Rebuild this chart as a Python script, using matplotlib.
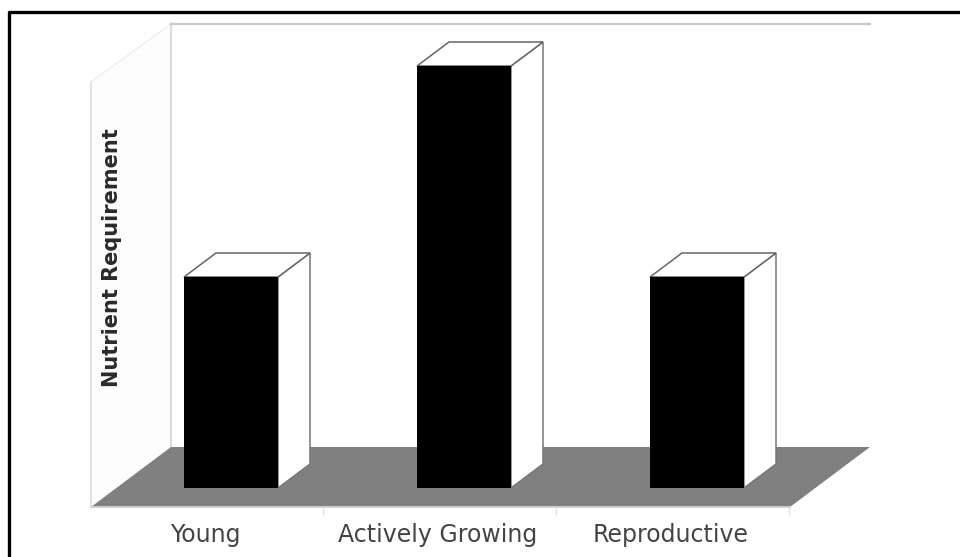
import matplotlib
matplotlib.use("Agg")
import matplotlib.pyplot as plt
from matplotlib.patches import Polygon
from matplotlib.lines import Line2D

categories = ["Young", "Actively Growing", "Reproductive"]
values = [2, 4, 2]
y_label = "Nutrient Requirement"
separators = [0.395, 1.395, 2.395]

W, H = 960, 557
# pixel calibration of the data scale
X0_PX, X_STEP = 231.0, 233.0
Y0_PX, Y_STEP = 488.0, 105.5
BAR_W = 94 / X_STEP
DX, DY = 32 / X_STEP, 24 / Y_STEP
FLOOR_DX, FLOOR_DY = 80 / X_STEP, 60 / Y_STEP
FLOOR_L = (91 - X0_PX) / X_STEP
FLOOR_R = (790 - X0_PX) / X_STEP
FLOOR_Y = -(507 - Y0_PX) / Y_STEP
WALL_TOP = (Y0_PX - 82) / Y_STEP
BACK_TOP = (Y0_PX - 24) / Y_STEP

fig = plt.figure(figsize=(W / 100, H / 100), dpi=100, facecolor="white")
ax = fig.add_axes([0, 0, 1, 1])
ax.set_xlim(-X0_PX / X_STEP, (W - X0_PX) / X_STEP)
ax.set_ylim(-(H - Y0_PX) / Y_STEP, Y0_PX / Y_STEP)
ax.axis("off")

# left wall and back wall
bx = FLOOR_L + FLOOR_DX
by = FLOOR_Y + FLOOR_DY
ax.add_patch(Polygon([(FLOOR_L, FLOOR_Y), (FLOOR_L, WALL_TOP), (bx, BACK_TOP), (bx, by)],
                     closed=True, fc="#fdfdfd", ec="none", zorder=1))
ax.plot([FLOOR_L, FLOOR_L], [FLOOR_Y, WALL_TOP], color="#dedede", lw=1.3, zorder=1.5)
ax.plot([FLOOR_L, bx], [WALL_TOP, BACK_TOP], color="#eeeeee", lw=1.0, zorder=1.5)
ax.plot([bx, bx], [by, BACK_TOP], color="#dcdcdc", lw=1.5, zorder=1.5)
ax.plot([bx, FLOOR_R + FLOOR_DX], [BACK_TOP, BACK_TOP], color="#c8c8c8", lw=1.6, zorder=1.5)

# floor
ax.add_patch(Polygon([(FLOOR_L, FLOOR_Y), (FLOOR_R, FLOOR_Y),
                      (FLOOR_R + FLOOR_DX, by), (bx, by)],
                     closed=True, fc="#808080", ec="none", zorder=2))
ax.plot([FLOOR_L, FLOOR_R], [FLOOR_Y, FLOOR_Y], color="#cfcfcf", lw=1.4, zorder=2.1)

# bars with pseudo-3D top and side
xs = range(len(categories))
for x, v in zip(xs, values):
    l, r = x - BAR_W / 2, x + BAR_W / 2
    ax.add_patch(Polygon([(r, 0), (r + DX, DY), (r + DX, v + DY), (r, v)],
                         closed=True, fc="white", ec="#777777", lw=1.1, zorder=3))
    ax.add_patch(Polygon([(l, v), (r, v), (r + DX, v + DY), (l + DX, v + DY)],
                         closed=True, fc="white", ec="#666666", lw=1.1, zorder=3))
ax.bar(xs, values, width=BAR_W, color="black", zorder=4)

# category separators and labels
for x in separators:
    ax.plot([x, x], [FLOOR_Y, FLOOR_Y - 8 / Y_STEP], color="#e4e4e4", lw=1.0, zorder=2)
for x, name in zip(xs, categories):
    ax.annotate(name, xy=(x, FLOOR_Y), xytext=(-26, -28), textcoords="offset pixels",
                ha="center", va="center", fontsize=17, color="#444444",
                family="DejaVu Sans")

ax.text((112 - X0_PX) / X_STEP, (Y0_PX - 258) / Y_STEP, y_label, rotation=90,
        ha="center", va="center", fontsize=15, fontweight="bold", color="#2a2a2a",
        family="DejaVu Sans")

# outer frame: top and left edges only
fig.add_artist(Line2D([8.5 / W, 8.5 / W, 1.0], [0, 1 - 11.5 / H, 1 - 11.5 / H],
                      transform=fig.transFigure, color="black", lw=2.4))

fig.savefig("out.png", dpi=100)
